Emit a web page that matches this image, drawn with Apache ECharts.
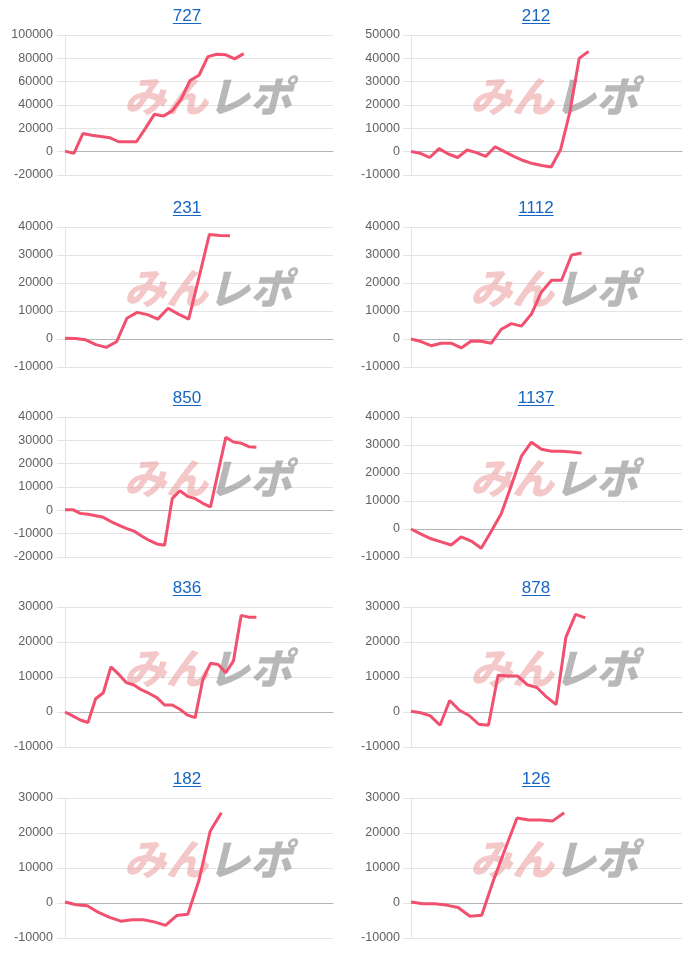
<!DOCTYPE html>
<html><head><meta charset="utf-8">
<script src="https://cdn.jsdelivr.net/npm/echarts@6/dist/echarts.min.js"></script>
<style>html,body{margin:0;padding:0;background:#fff}#c{width:700px;height:955px}</style>
</head><body><div id="c"></div>
<script>
// ---- data ----
const titles = ['727','212','231','1112','850','1137','836','878','182','126'];
const d727  = [500,-1500,15500,14000,13000,12000,8500,8500,8500,20000,32000,30500,35000,45000,61000,65500,81500,83500,83000,79500,84000];
const d212  = [100,-700,-2500,1300,-1000,-2500,700,-400,-2000,2100,0,-2000,-3800,-5100,-5900,-6600,800,17000,40000,43000];
const d231  = [300,200,-300,-2000,-3000,-1000,7400,9500,8700,7100,11000,8900,7100,22000,37300,37000,36900];
const d1112 = [0,-900,-2400,-1500,-1500,-3200,-700,-800,-1500,3500,5500,4600,8900,16800,21000,21000,30000,30700];
const d850  = [300,300,-1300,-1700,-2300,-3000,-4800,-6300,-7700,-8900,-11000,-12900,-14400,-15000,5000,8400,6000,5000,3000,1500,16500,31300,29300,28800,27300,27000];
const d1137 = [0,-1800,-3500,-4600,-5700,-2800,-4300,-6900,-800,5500,15500,26000,31000,28500,27800,27800,27500,27100];
const d836  = [0,-1100,-2300,-3000,3800,5500,12900,10800,8400,7700,6300,5300,4100,2000,2000,800,-900,-1600,9300,13900,13600,11200,14600,27600,27100,27100];
const d878  = [200,-200,-1100,-3800,3300,500,-1000,-3500,-3800,10500,10300,10300,7800,7000,4300,2100,21300,27900,26900];
const d182  = [300,-500,-800,-2700,-4100,-5200,-4800,-4800,-5400,-6400,-3600,-3200,6500,20500,25800];
const d126  = [300,-200,-200,-600,-1300,-3800,-3500,6500,15500,24300,23700,23700,23400,25800];
const seriesData = [d727,d212,d231,d1112,d850,d1137,d836,d878,d182,d126];
const categoryCounts = [31,30,27,28,36,28,36,29,25,24];
const yMin  = [-20000,-10000,-10000,-10000,-20000,-10000,-10000,-10000,-10000,-10000];
const yMax  = [100000,50000,40000,40000,40000,40000,30000,30000,30000,30000];
const yStep = [20000,10000,10000,10000,10000,10000,10000,10000,10000,10000];

// ---- layout ----
const colLeft = [65, 411], colWidth = [268, 271], titleX = [187, 536];
const rowTop = [35, 227, 417, 607, 798], plotH = 140;
const FONT = "'Liberation Sans', Arial, Helvetica, sans-serif";
const LINE = '#f2506f';

const mctx = document.createElement('canvas').getContext('2d');
mctx.font = '17px ' + FONT;

const grids = [], xAxes = [], yAxes = [], series = [], graphics = [];
titles.forEach((t, i) => {
  const r = Math.floor(i / 2), c = i % 2;
  grids.push({left: colLeft[c], top: rowTop[r], width: colWidth[c], height: plotH});
  const cats = [];
  for (let k = 1; k <= categoryCounts[i]; k++) cats.push(String(k));
  xAxes.push({type: 'category', gridIndex: i, data: cats, boundaryGap: false,
    axisLabel: {show: false}, axisTick: {show: false}, splitLine: {show: false},
    axisLine: {show: true, onZero: true, lineStyle: {color: '#b4b4b4', width: 1}}});
  yAxes.push({type: 'value', gridIndex: i, min: yMin[i], max: yMax[i], interval: yStep[i],
    axisLine: {show: true, lineStyle: {color: '#e4e4e4'}},
    axisTick: {show: true, length: 8, lineStyle: {color: '#e4e4e4'}},
    splitLine: {show: true, lineStyle: {color: '#e4e4e4'}},
    axisLabel: {color: '#616161', fontSize: 12.5, fontFamily: FONT, margin: 12 - c,
      formatter: v => String(v)}});
  series.push({type: 'line', xAxisIndex: i, yAxisIndex: i, data: seriesData[i],
    showSymbol: false, symbol: 'none', z: 5,
    lineStyle: {color: LINE, width: 3}, itemStyle: {color: LINE}});
  // title with underline
  const ty = rowTop[r] - 19;
  const w = mctx.measureText(t).width;
  graphics.push({type: 'text', x: titleX[c], y: ty, z: 10,
    style: {text: t, fill: '#1766c2', font: '17px ' + FONT, textAlign: 'center', textVerticalAlign: 'middle', align: 'center', verticalAlign: 'middle'}});
  graphics.push({type: 'line', z: 10, shape: {x1: titleX[c] - w / 2, y1: ty + 7.5, x2: titleX[c] + w / 2, y2: ty + 7.5},
    style: {stroke: '#1766c2', lineWidth: 1}});
  // watermark
  const wx = colLeft[c] + 141, wy = rowTop[r] + 61;
  graphics.push({type: 'text', x: wx + 2, y: wy, z: 1, silent: true,
    style: {text: 'みん', fill: 'rgba(232,140,140,0.48)', font: 'italic 900 42px "Noto Sans CJK JP"', textAlign: 'right', textVerticalAlign: 'middle', align: 'right', verticalAlign: 'middle'}});
  graphics.push({type: 'text', x: wx + 2, y: wy, z: 1, silent: true,
    style: {text: 'レポ', fill: 'rgba(150,150,150,0.68)', font: 'italic 900 42px "Noto Sans CJK JP"', textAlign: 'left', textVerticalAlign: 'middle', align: 'left', verticalAlign: 'middle'}});
});

const chart = echarts.init(document.getElementById('c'), null, {renderer: 'canvas'});
chart.setOption({animation: false, grid: grids, xAxis: xAxes, yAxis: yAxes, series: series, graphic: graphics});
</script></body></html>
